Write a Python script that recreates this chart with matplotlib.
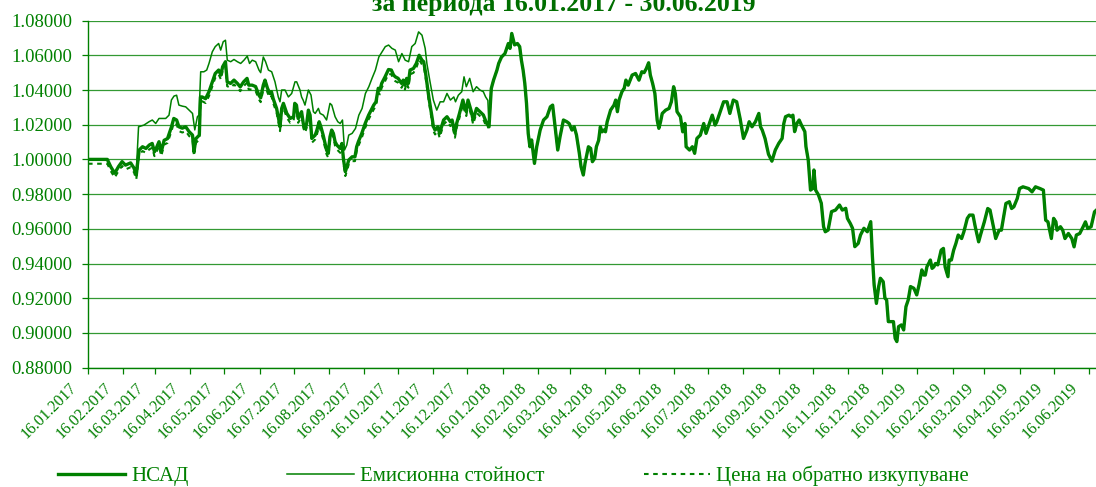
import matplotlib
matplotlib.use('Agg')
import matplotlib.pyplot as plt
import matplotlib.dates as mdates
import matplotlib.transforms as mtransforms
from matplotlib.ticker import MultipleLocator, FormatStrFormatter
import numpy as np
from datetime import datetime

plt.rcParams['font.family'] = ['Liberation Serif', 'DejaVu Serif']

# days counted from 16.01.2017
nav_day_a = [0, 17, 20, 23.5, 27, 30, 33, 37.5, 40.5, 42.5,
             45, 48, 51, 54, 56.5, 58.5, 60, 62.5, 64.5, 67,
             70, 72, 73.5, 75.5, 78, 80, 83, 86, 89, 92,
             93.3, 95, 98, 99, 100.5, 103.5, 106.5, 109.5, 112, 115,
             117, 118.5, 121, 122.5, 125.5, 128.5, 131.5, 134, 137, 140,
             141.5, 144.5, 147.5, 150.5, 152, 154.3, 155.8, 158, 160, 161.5,
             163, 166, 168, 169, 170.5, 172, 175, 178, 181, 182,
             183.5, 185, 188, 189.5, 191, 192.5, 194, 195.5, 197, 200,
             201.5, 203.5, 205, 207, 210, 211.5, 213, 214.5, 216, 217.5,
             219, 222, 223.5, 225, 226.5, 228, 229.5, 232.5, 235, 236.5,
             238, 241, 244, 247, 250, 251.5, 253.5, 255.5, 257, 258.5,
             261.5, 264.5, 267, 269, 270.5, 273, 276, 277.5, 279, 280.5,
             282, 283.5, 286.5, 289, 291.5, 294, 295.5, 297, 300, 303,
             304, 305.5, 308, 309.5, 313, 316, 319, 320.5, 323, 324.5,
             327, 330, 331.5, 333, 334.5, 337.5, 339, 342, 345, 348,
             351]
nav_a = [1.0000, 1.0000, 0.9958, 0.9920, 0.9960, 0.9987, 0.9967, 0.9980, 0.9950, 0.9910,
         1.0054, 1.0073, 1.0063, 1.0083, 1.0092, 1.0044, 1.0063, 1.0102, 1.0044, 1.0110,
         1.0120, 1.0160, 1.0188, 1.0236, 1.0227, 1.0188, 1.0180, 1.0188, 1.0160, 1.0140,
         1.0044, 1.0120, 1.0140, 1.0360, 1.0360, 1.0350, 1.0390, 1.0447, 1.0495, 1.0515,
         1.0486, 1.0534, 1.0563, 1.0447, 1.0438, 1.0457, 1.0438, 1.0418, 1.0447, 1.0467,
         1.0428, 1.0428, 1.0420, 1.0370, 1.0355, 1.0428, 1.0457, 1.0410, 1.0380, 1.0390,
         1.0350, 1.0294, 1.0227, 1.0188, 1.0294, 1.0323, 1.0265, 1.0236, 1.0246, 1.0323,
         1.0313, 1.0236, 1.0275, 1.0207, 1.0179, 1.0207, 1.0284, 1.0255, 1.0121, 1.0140,
         1.0169, 1.0217, 1.0188, 1.0140, 1.0054, 1.0035, 1.0130, 1.0169, 1.0150, 1.0102,
         1.0083, 1.0063, 1.0092, 0.9996, 0.9929, 0.9960, 0.9996, 1.0015, 1.0015, 1.0073,
         1.0102, 1.0150, 1.0207, 1.0255, 1.0294, 1.0313, 1.0332, 1.0410, 1.0400, 1.0438,
         1.0476, 1.0518, 1.0515, 1.0486, 1.0476, 1.0467, 1.0438, 1.0457, 1.0428, 1.0467,
         1.0438, 1.0515, 1.0524, 1.0553, 1.0600, 1.0572, 1.0563, 1.0505, 1.0360, 1.0236,
         1.0190, 1.0169, 1.0188, 1.0150, 1.0227, 1.0246, 1.0217, 1.0227, 1.0150, 1.0207,
         1.0265, 1.0342, 1.0303, 1.0275, 1.0342, 1.0275, 1.0227, 1.0294, 1.0275, 1.0256,
         1.0207]
redem_a = [0.9975, 0.9975, 0.9933, 0.9895, 0.9935, 0.9962, 0.9942, 0.9955, 0.9925, 0.9885,
           1.0029, 1.0048, 1.0038, 1.0058, 1.0067, 1.0019, 1.0038, 1.0077, 1.0019, 1.0085,
           1.0095, 1.0135, 1.0163, 1.0211, 1.0202, 1.0163, 1.0155, 1.0163, 1.0135, 1.0115,
           1.0019, 1.0095, 1.0115, 1.0335, 1.0335, 1.0325, 1.0365, 1.0422, 1.0470, 1.0490,
           1.0461, 1.0509, 1.0538, 1.0422, 1.0413, 1.0432, 1.0413, 1.0393, 1.0422, 1.0442,
           1.0403, 1.0403, 1.0395, 1.0345, 1.0330, 1.0403, 1.0432, 1.0385, 1.0355, 1.0365,
           1.0325, 1.0269, 1.0202, 1.0163, 1.0269, 1.0298, 1.0240, 1.0211, 1.0221, 1.0298,
           1.0288, 1.0211, 1.0250, 1.0182, 1.0154, 1.0182, 1.0259, 1.0230, 1.0096, 1.0115,
           1.0144, 1.0192, 1.0163, 1.0115, 1.0029, 1.0010, 1.0105, 1.0144, 1.0125, 1.0077,
           1.0058, 1.0038, 1.0067, 0.9971, 0.9904, 0.9935, 0.9971, 0.9990, 0.9990, 1.0048,
           1.0077, 1.0125, 1.0182, 1.0230, 1.0269, 1.0288, 1.0307, 1.0385, 1.0375, 1.0413,
           1.0451, 1.0493, 1.0490, 1.0461, 1.0451, 1.0442, 1.0413, 1.0432, 1.0403, 1.0442,
           1.0413, 1.0490, 1.0499, 1.0528, 1.0575, 1.0547, 1.0538, 1.0480, 1.0335, 1.0211,
           1.0165, 1.0144, 1.0163, 1.0125, 1.0202, 1.0221, 1.0192, 1.0202, 1.0125, 1.0182,
           1.0240, 1.0317, 1.0278, 1.0250, 1.0317, 1.0250, 1.0202, 1.0269, 1.0250, 1.0231,
           1.0182]
emis_day_a = [0, 17, 20, 23.5, 27, 30, 33, 37.5, 40.5, 42.5,
              44.5, 49.3, 53.7, 56.6, 59.6, 62.5, 65.4, 68.4, 71.3, 73.4,
              75.7, 78, 80, 83, 86, 89, 92, 94, 96.3, 97.7,
              99.2, 102, 104.5, 106.5, 109.4, 112, 115, 116.8, 119, 121,
              122.6, 125.6, 128.5, 131.5, 134.4, 137.3, 140.2, 142.2, 144.6, 147.6,
              150.5, 152, 154.3, 156.3, 158.8, 161.7, 164.6, 167.5, 169, 170.5,
              173.4, 176.4, 179.3, 182.2, 183.7, 186.6, 188, 189.5, 191, 194,
              196.3, 198.4, 200, 202.8, 204.3, 207.2, 210, 213, 214.6, 217.5,
              219.9, 222, 224, 225.8, 227.8, 229.5, 232.5, 235.5, 238.4, 241.3,
              244.2, 247.2, 250, 253, 256, 258.8, 261.7, 264.6, 267.5, 270.5,
              273.4, 276.3, 279.2, 282.2, 285, 288, 291, 294, 296.8, 298.3,
              301, 304, 307, 310, 313, 316, 319, 322, 323.5, 326,
              329, 331, 333, 336, 339, 342, 345, 348, 350, 352]
emis_a = [1.0000, 1.0000, 0.9958, 0.9920, 0.9960, 0.9987, 0.9967, 0.9980, 0.9950, 0.9930,
          1.0188, 1.0198, 1.0217, 1.0227, 1.0207, 1.0236, 1.0236, 1.0236, 1.0255, 1.0342,
          1.0365, 1.0370, 1.0313, 1.0307, 1.0303, 1.0284, 1.0265, 1.0170, 1.0246, 1.0255,
          1.0505, 1.0505, 1.0515, 1.0553, 1.0620, 1.0650, 1.0668, 1.0630, 1.0678, 1.0687,
          1.0572, 1.0563, 1.0576, 1.0563, 1.0553, 1.0572, 1.0595, 1.0553, 1.0572, 1.0563,
          1.0515, 1.0500, 1.0590, 1.0563, 1.0515, 1.0505, 1.0447, 1.0360, 1.0332, 1.0400,
          1.0400, 1.0360, 1.0380, 1.0447, 1.0447, 1.0400, 1.0360, 1.0340, 1.0313, 1.0400,
          1.0371, 1.0275, 1.0265, 1.0294, 1.0265, 1.0255, 1.0227, 1.0323, 1.0313, 1.0246,
          1.0217, 1.0207, 1.0227, 1.0054, 1.0083, 1.0140, 1.0150, 1.0179, 1.0255, 1.0294,
          1.0380, 1.0419, 1.0467, 1.0515, 1.0590, 1.0620, 1.0650, 1.0659, 1.0640, 1.0630,
          1.0563, 1.0610, 1.0572, 1.0563, 1.0650, 1.0668, 1.0735, 1.0716, 1.0640, 1.0553,
          1.0450, 1.0342, 1.0284, 1.0332, 1.0332, 1.0380, 1.0342, 1.0360, 1.0332, 1.0370,
          1.0390, 1.0476, 1.0419, 1.0467, 1.0390, 1.0419, 1.0400, 1.0390, 1.0360, 1.0340]

# from January 2018 the three prices coincide
nav_day_b = [353, 355, 357, 360, 361.5, 364, 367, 370, 371.5, 373,
             375.5, 378, 380, 381.5, 383, 384.5, 386, 387.5, 389, 390.5,
             393, 395, 398, 401, 404, 407, 409, 411.5, 413.5, 415.5,
             418.5, 421.5, 423.5, 426, 428, 430, 432.5, 434, 436, 437.5,
             440.5, 442.5, 444, 446, 447.5, 449.5, 451, 452.5, 454, 455.5,
             457, 460, 463, 464.5, 466, 467.5, 470, 472, 473.5, 475.5,
             479, 482, 485, 487.5, 489.5, 491.5, 493.5, 495, 497, 499,
             501, 502.5, 504, 505.5, 508.5, 511.5, 513.5, 515.5, 517, 518.5,
             521.5, 523.5, 525.5, 526.5, 529.5, 532, 534, 536, 539, 542,
             544, 546.5, 549.5, 552, 553.5, 556.5, 559.5, 562.5, 565, 568,
             571, 574, 577, 580, 582, 584.5, 587.5, 590.5, 592, 593.5,
             596, 599, 602, 605, 608, 611, 612.5, 614, 617, 619,
             620.5, 622, 624, 626, 628, 631, 632, 634, 636, 638,
             639, 640.5, 643, 645.5, 647.5, 649, 651.5, 654.5, 658, 661.5,
             664, 667, 668.5, 671, 673, 675, 678, 680, 683, 686,
             689, 690.5, 692, 694, 696, 697.5, 700, 701.5, 703, 704.5,
             709, 710.5, 712, 713.5, 716, 718, 720, 722, 724, 727,
             729.5, 731.5, 734, 735.5, 737, 738.5, 740, 741.5, 743, 744.5,
             746, 748, 751, 753, 754.5, 757, 758, 760, 762, 764,
             766, 769, 771, 774, 776, 779, 781, 784, 786, 789,
             792, 794, 797, 799, 802, 804, 806, 808, 811, 813,
             815, 818, 820, 823, 828, 831, 834, 838, 841, 843,
             845, 848, 850, 852, 853, 856, 858, 860, 863, 866,
             868, 870, 873, 876, 878, 880, 883, 886, 888]
nav_b = [1.0188, 1.0409, 1.0457, 1.0515, 1.0553, 1.0590, 1.0610, 1.0668, 1.0640, 1.0726,
         1.0660, 1.0668, 1.0650, 1.0572, 1.0515, 1.0438, 1.0323, 1.0150, 1.0073, 1.0112,
         0.9977, 1.0073, 1.0169, 1.0227, 1.0246, 1.0303, 1.0313, 1.0169, 1.0054, 1.0130,
         1.0227, 1.0217, 1.0207, 1.0169, 1.0188, 1.0140, 1.0035, 0.9958, 0.9910, 0.9977,
         1.0073, 1.0063, 0.9987, 1.0006, 1.0073, 1.0110, 1.0188, 1.0159, 1.0169, 1.0159,
         1.0217, 1.0284, 1.0313, 1.0342, 1.0275, 1.0342, 1.0390, 1.0410, 1.0457, 1.0428,
         1.0486, 1.0495, 1.0457, 1.0505, 1.0500, 1.0524, 1.0557, 1.0486, 1.0438, 1.0380,
         1.0227, 1.0179, 1.0217, 1.0265, 1.0284, 1.0294, 1.0332, 1.0419, 1.0380, 1.0275,
         1.0246, 1.0159, 1.0207, 1.0073, 1.0054, 1.0073, 1.0035, 1.0121, 1.0140, 1.0207,
         1.0150, 1.0198, 1.0255, 1.0198, 1.0217, 1.0275, 1.0332, 1.0332, 1.0265, 1.0342,
         1.0332, 1.0236, 1.0121, 1.0169, 1.0217, 1.0188, 1.0217, 1.0265, 1.0188, 1.0169,
         1.0120, 1.0030, 0.9990, 1.0054, 1.0092, 1.0121, 1.0207, 1.0246, 1.0255, 1.0246,
         1.0255, 1.0160, 1.0207, 1.0227, 1.0198, 1.0160, 1.0073, 0.9996, 0.9823, 0.9833,
         0.9939, 0.9823, 0.9795, 0.9747, 0.9612, 0.9583, 0.9593, 0.9699, 0.9708, 0.9737,
         0.9708, 0.9718, 0.9660, 0.9631, 0.9603, 0.9497, 0.9516, 0.9564, 0.9603, 0.9583,
         0.9641, 0.9439, 0.9276, 0.9170, 0.9267, 0.9315, 0.9295, 0.9200, 0.9190, 0.9065,
         0.9065, 0.8969, 0.8950, 0.9036, 0.9046, 0.9017, 0.9151, 0.9190, 0.9267, 0.9257,
         0.9219, 0.9276, 0.9363, 0.9334, 0.9333, 0.9382, 0.9400, 0.9420, 0.9372, 0.9380,
         0.9400, 0.9392, 0.9477, 0.9487, 0.9380, 0.9324, 0.9420, 0.9420, 0.9477, 0.9516,
         0.9564, 0.9544, 0.9583, 0.9660, 0.9679, 0.9679, 0.9612, 0.9525, 0.9573, 0.9640,
         0.9717, 0.9708, 0.9612, 0.9544, 0.9592, 0.9592, 0.9669, 0.9746, 0.9756, 0.9717,
         0.9727, 0.9775, 0.9832, 0.9842, 0.9832, 0.9813, 0.9842, 0.9832, 0.9823, 0.9650,
         0.9640, 0.9544, 0.9660, 0.9640, 0.9592, 0.9612, 0.9592, 0.9544, 0.9573, 0.9544,
         0.9496, 0.9564, 0.9573, 0.9612, 0.9640, 0.9602, 0.9612, 0.9698, 0.9710]

labels = ['НСАД', 'Емисионна стойност', 'Цена на обратно изкупуване']
title = 'за периода 16.01.2017 - 30.06.2019'

green = '#008000'
start = mdates.date2num(datetime(2017, 1, 16))

x_nav = start + np.array(nav_day_a + nav_day_b)
y_nav = nav_a + nav_b
x_emis = start + np.array(emis_day_a + nav_day_b)
y_emis = emis_a + nav_b
x_red = start + np.array(nav_day_a + nav_day_b)
y_red = redem_a + nav_b

W, H = 1096, 487
fig = plt.figure(figsize=(W / 100, H / 100), dpi=100)
ax = fig.add_axes([88 / W, 1 - 367.6 / H, 1008 / W, 347 / H])

l1, = ax.plot(x_nav, y_nav, color=green, lw=2.4, solid_joinstyle='round', zorder=3)
l2, = ax.plot(x_emis, y_emis, color=green, lw=1.1, zorder=2)
l3, = ax.plot(x_red, y_red, color=green, lw=1.5, linestyle=(0, (2.2, 2.2)), zorder=2)

ax.set_xlim(start, start + 887.3)
ax.set_ylim(0.88, 1.08)
ax.yaxis.set_major_locator(MultipleLocator(0.02))
ax.yaxis.set_major_formatter(FormatStrFormatter('%.5f'))
ax.xaxis.set_major_locator(mdates.MonthLocator(bymonthday=16))
ax.xaxis.set_major_formatter(mdates.DateFormatter('%d.%m.%Y'))
ax.grid(axis='y', color=green, lw=0.9, alpha=0.8)
ax.set_axisbelow(True)

for s in ['top', 'right']:
    ax.spines[s].set_visible(False)
for s in ['left', 'bottom']:
    ax.spines[s].set_color(green)
    ax.spines[s].set_linewidth(1.0)

ax.tick_params(axis='y', colors=green, length=4.3, width=0.9, pad=7, labelsize=13.5)
ax.tick_params(axis='x', colors=green, length=4, width=0.9, pad=2, labelsize=11.5)
offset = mtransforms.ScaledTranslation(-0.19, -0.04, fig.dpi_scale_trans)
for lbl in ax.get_xticklabels():
    lbl.set_rotation(45)
    lbl.set_ha('right')
    lbl.set_rotation_mode('anchor')
    lbl.set_transform(lbl.get_transform() + offset)

fig.text(564 / W, 1 - 11 / H, title, ha='center', va='baseline',
         fontsize=18.5, fontweight='bold', color='#006e00')

fig.legend([l1, l2, l3], labels, ncol=3, loc='center left',
           bbox_to_anchor=(58 / W, 1 - 476 / H), frameon=False,
           fontsize=15, borderpad=0, borderaxespad=0,
           handlelength=3.2, handletextpad=0.3, columnspacing=4.75,
           labelcolor=green)

fig.savefig('out.png', dpi=100)
